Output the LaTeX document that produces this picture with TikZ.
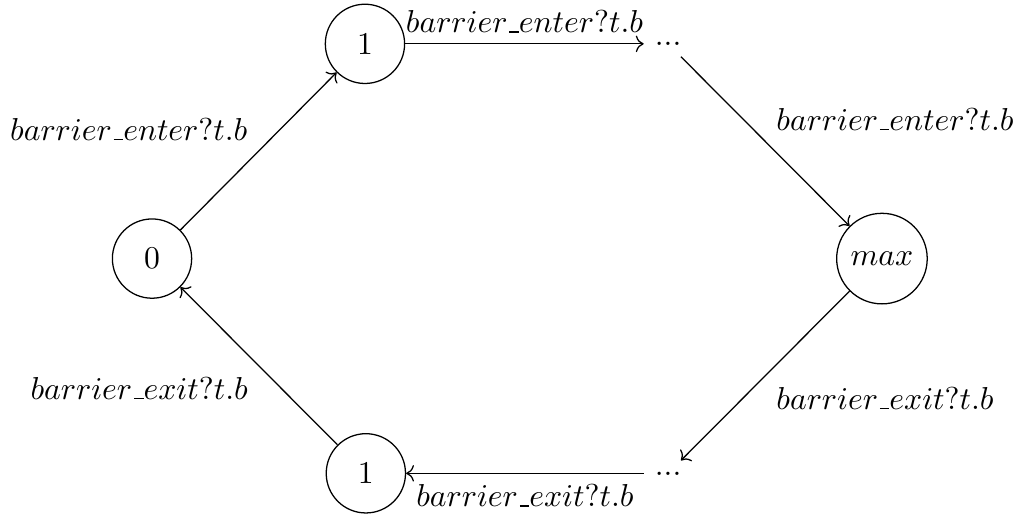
\documentclass[tikz,border=0pt]{standalone}
\usepackage{tikz}
\usetikzlibrary{arrows.meta, positioning}
\newcommand{\ulbar}{\kern.06em\vbox{\hrule width.3em}}
\tikzset{
  state/.style={draw, circle, minimum size=25pt, inner sep=3.33pt},
  gap/.style={inner sep=3.33pt},
  arr/.style={->},
  lbl/.style={inner sep=3.33pt}
}

\begin{document}
\begin{tikzpicture}[x=1cm, y=1cm]
    \useasboundingbox (-1.685,-2.82) rectangle (9.62,2.866);
    \node[state] (s0) at (0,0) {0};
    \node[state] (s1) at (2.36,2.38) {1};
    \node[gap] (up) at (5.72,2.38) {...};
    \node[state] (smax) at (8.09,0) {$max$};
    \node[gap] (down) at (5.72,-2.38) {...};
    \node[state] (t1) at (2.37,-2.38) {1};

    \draw[arr] (s0) -- node[lbl, above left] {$barrier\ulbar enter?t.b$} (s1);
    \draw[arr] (s1) -- node[lbl, above] {$barrier\ulbar enter?t.b$} (up);
    \draw[arr] (up) -- node[lbl, above right] {$barrier\ulbar enter?t.b$} (smax);
    \draw[arr] (smax) -- node[lbl, below right] {$barrier\ulbar exit?t.b$} (down);
    \draw[arr] (down) -- node[lbl, below] {$barrier\ulbar exit?t.b$} (t1);
    \draw[arr] (t1) -- node[lbl, below left] {$barrier\ulbar exit?t.b$} (s0);
  \end{tikzpicture}
\end{document}
